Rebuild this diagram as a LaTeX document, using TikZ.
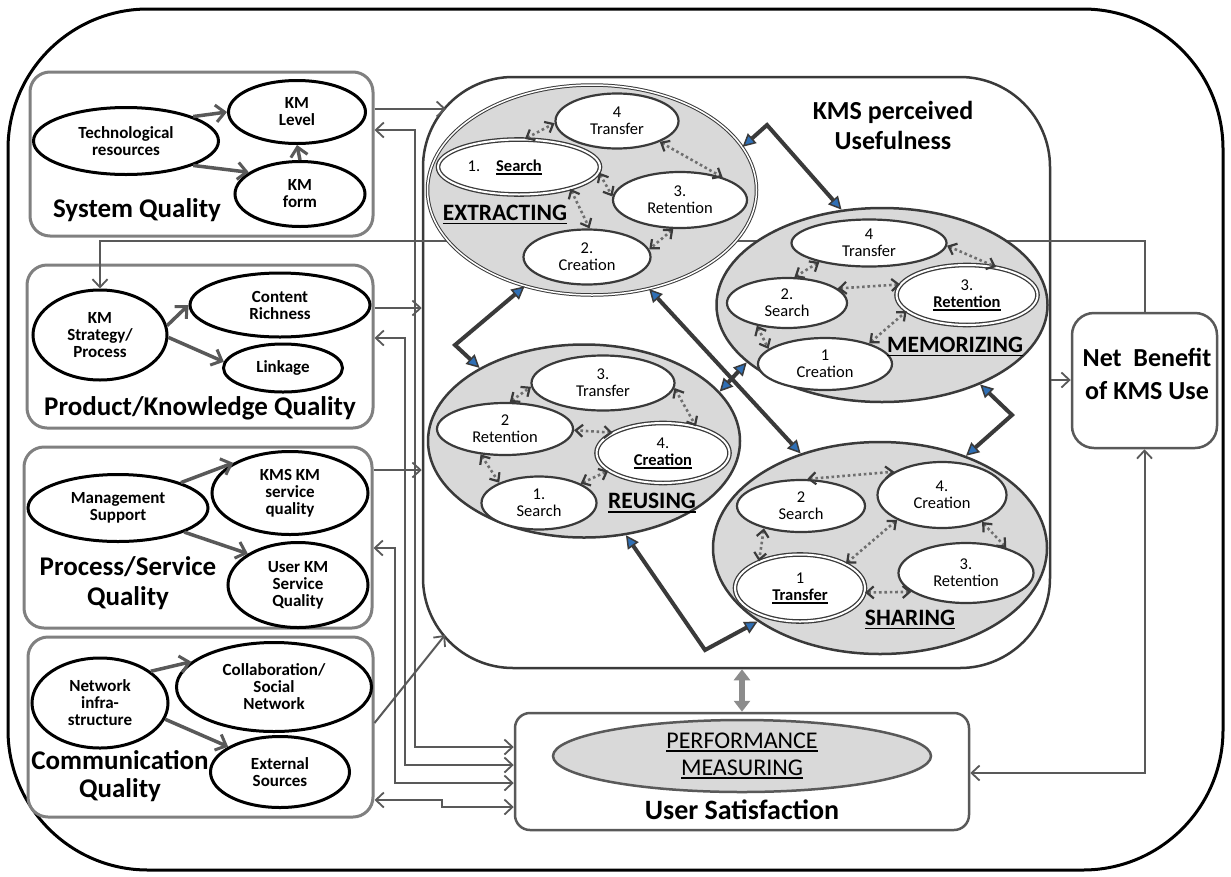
\documentclass[tikz,border=0pt]{standalone}
\usepackage{fontspec}
\setmainfont{Carlito}
\usetikzlibrary{shapes.geometric,arrows.meta}

\definecolor{framegray}{HTML}{808080}
\definecolor{wiregray}{HTML}{595959}
\definecolor{inkgray}{HTML}{3A3A3A}
\definecolor{shadegray}{HTML}{D9D9D9}
\definecolor{dotgray}{HTML}{6F6F6F}
\definecolor{tipblue}{HTML}{2F6FB5}
\definecolor{pipegray}{HTML}{8C8C8C}

\newcommand{\fsz}[2]{\fontsize{#1}{#2}\selectfont}
\newcommand{\undl}[1]{\leavevmode\vtop{\hbox{#1}\kern1.6pt\hrule height 1.8pt}}

\begin{document}
\begin{tikzpicture}[x=1pt,y=-1pt,
  lbox/.style={draw=framegray,line width=3pt,rounded corners=20pt,fill=white},
  lell/.style={ellipse,draw=black,line width=3pt,fill=white,inner sep=0pt,align=center,font=\fsz{17}{17}\bfseries},
  bigell/.style={ellipse,draw=inkgray,line width=2.5pt,fill=shadegray,inner sep=0pt},
  sell/.style={ellipse,draw=inkgray,line width=2.2pt,fill=white,inner sep=0pt,align=center,font=\fsz{16.5}{17}},
  dsell/.style={sell,line width=1.3pt,double=white,double distance=2pt},
  boxlabel/.style={font=\fsz{27}{30}\bfseries,align=center,inner sep=0pt},
  stagelabel/.style={font=\fsz{23.5}{26}\bfseries,inner sep=0pt},
  wtip/.tip={Straight Barb[length=8pt,width=15pt,line width=1.8pt]},
  itip/.tip={Straight Barb[length=9pt,width=17pt,line width=3pt]},
  dtip/.tip={Straight Barb[length=7pt,width=12pt,line width=2.2pt,color=inkgray]},
  ftip/.tip={Triangle[length=13pt,width=13pt,line width=1.5pt,fill=tipblue]},
  ptip/.tip={Triangle[length=11pt,width=16pt]},
  innerlink/.style={draw=wiregray,line width=3.5pt,-itip},
  wire/.style={draw=wiregray,line width=2pt},
  dlink/.style={draw=dotgray,line width=2.6pt,dash pattern=on 2.6pt off 2.8pt,dtip-dtip},
  flow/.style={draw=inkgray,line width=4pt,ftip-ftip},
  pipe/.style={draw=pipegray,line width=6pt,ptip-ptip}
]
\useasboundingbox (0,0) rectangle (1231,876);

% outer frame
\node[draw=black,line width=3pt,rounded corners=140pt,minimum width=1215pt,minimum height=861pt,inner sep=0pt] (frame) at (615.5,439.5) {};

% ---------- quality dimensions ----------
\node[lbox,minimum width=343pt,minimum height=164pt] (sysq) at (201.5,154) {};
\node[lell,minimum width=185pt,minimum height=67pt] (tech) at (126,141) {Technological\\resources};
\node[lell,minimum width=137pt,minimum height=63pt] (kmlevel) at (297,112) {KM\\Level};
\node[lell,minimum width=130pt,minimum height=65pt] (kmform) at (300,194) {KM\\form};
\node[boxlabel] (sysqlabel) at (137,210) {System Quality};
\draw[innerlink] (tech.20) -- (kmlevel.180);
\draw[innerlink] (tech.340) -- (kmform.157);
\draw[innerlink] (kmform.north) -- (kmlevel.south);

\node[lbox,minimum width=346pt,minimum height=163pt] (prodq) at (200,346.5) {};
\node[lell,minimum width=134pt,minimum height=90pt] (kmstrat) at (100,335) {KM\\Strategy/\\Process};
\node[lell,minimum width=180pt,minimum height=64pt] (content) at (280,305) {Content\\Richness};
\node[lell,minimum width=119pt,minimum height=48pt] (linkage) at (283,368) {Linkage};
\node[boxlabel] (prodqlabel) at (200,408) {Product/Knowledge Quality};
\draw[innerlink] (kmstrat.8) -- (content.180);
\draw[innerlink] (kmstrat.358) -- (linkage.174);

\node[lbox,minimum width=348pt,minimum height=181pt] (procq) at (198,537.5) {};
\node[lell,minimum width=180pt,minimum height=67pt] (mgmt) at (118,508) {Management\\Support};
\node[lell,minimum width=156pt,minimum height=83pt] (kmssq) at (290,493) {KMS KM\\service\\quality};
\node[lell,minimum width=140pt,minimum height=85pt] (userkm) at (298,585) {User KM\\Service\\Quality};
\node[boxlabel] (procqlabel) at (128,583) {Process/Service\\Quality};
\draw[innerlink] (mgmt.22) -- (kmssq.152);
\draw[innerlink] (mgmt.340) -- (userkm.148);

\node[lbox,minimum width=345pt,minimum height=180pt] (commq) at (200.5,727) {};
\node[lell,minimum width=136pt,minimum height=90pt] (netinf) at (100,703) {Network\\infra-\\structure};
\node[lell,minimum width=195pt,minimum height=89pt] (collab) at (274,687) {Collaboration/\\Social\\Network};
\node[lell,minimum width=139pt,minimum height=71pt] (extsrc) at (280,772) {External\\Sources};
\node[boxlabel,font=\fsz{27}{28}\bfseries] (commqlabel) at (120,776) {Communication\\Quality};
\draw[innerlink] (netinf.32) -- (collab.163);
\draw[innerlink] (netinf.346) -- (extsrc.154);

% ---------- outcome boxes ----------
\node[draw=wiregray,line width=2.5pt,rounded corners=22pt,fill=white,minimum width=145pt,minimum height=135pt] (nb) at (1144.5,380.5) {};
\node[font=\fsz{26}{33}\bfseries,align=center] (nbtext) at (1147,374) {Net\ \ Benefit\\of KMS Use};

\node[draw=wiregray,line width=2.5pt,rounded corners=15pt,fill=white,minimum width=454pt,minimum height=117pt] (us) at (742,771.5) {};
\node[ellipse,draw=wiregray,line width=2.5pt,fill=shadegray,minimum width=378pt,minimum height=72pt,inner sep=0pt,align=center,font=\fsz{24}{27}] (perf) at (742,756) {\undl{PERFORMANCE}\\\undl{MEASURING}};
\node[font=\fsz{28}{30}\bfseries] (ustext) at (742,810) {User Satisfaction};

% ---------- KMS perceived usefulness ----------
\node[draw=inkgray,line width=2.5pt,rounded corners=90pt,fill=white,minimum width=627pt,minimum height=591pt] (kms) at (736.5,372.5) {};
\node[font=\fsz{26}{30}\bfseries,align=center] (kmstitle) at (893,125) {KMS perceived\\Usefulness};

% connectors between the dimensions, the KMS and the outcomes
\coordinate (kmsA) at (446,109);
\coordinate (kmsD) at (445,635);
\draw[wire,-wtip] (sysq.east |- 0,109) -- (kmsA);
\draw[wire,-wtip] (prodq.east |- 0,308) -- (kms.west |- 0,308);
\draw[wire,-wtip] (procq.east |- 0,470) -- (kms.west |- 0,470);
\draw[wire,-wtip] (commq.east |- 0,723) -- (kmsD);

\draw[wire,wtip-wtip] (sysq.east |- 0,130) -- ++(40,0) |- (us.west |- 0,747);
\draw[wire,wtip-wtip] (prodq.east |- 0,338) -- ++(30,0) |- (us.west |- 0,765);
\draw[wire,wtip-wtip] (procq.east |- 0,548) -- ++(21,0) |- (us.west |- 0,783);
\draw[wire,wtip-wtip] (commq.east |- 0,800) -| (442,807) -- (us.west |- 0,807);

\draw[wire,-wtip] (kms.east |- 0,380) -- (nb.west |- 0,380);
\draw[wire,wtip-wtip] (us.east |- 0,773) -| (nb.south);
\draw[wire,-wtip] (nb.north) |- (kmstrat.north |- 0,241) -- (kmstrat.north);

% ---------- the four KM stages ----------
\node[bigell,line width=1pt,double=white,double distance=1.5pt,minimum width=329pt,minimum height=210pt] (ext) at (592,190) {};
\node[bigell,minimum width=331pt,minimum height=194pt] (mem) at (882,305) {};
\node[bigell,minimum width=312pt,minimum height=193pt] (reu) at (584,441) {};
\node[bigell,minimum width=334pt,minimum height=212pt] (sha) at (880,548) {};

% extracting
\node[sell,minimum width=123pt,minimum height=55pt] (xT) at (617,121) {4\\Transfer};
\node[dsell,minimum width=162pt,minimum height=55pt] (xS) at (519,167) {\llap{1.\hspace{16pt}}\textbf{\undl{Search}}};
\node[sell,minimum width=134pt,minimum height=56pt] (xR) at (680,200) {3.\\Retention};
\node[sell,minimum width=127pt,minimum height=55pt] (xC) at (587,257) {2.\\Creation};
\node[stagelabel] (xlabel) at (505,215) {\undl{EXTRACTING}};
\draw[dlink] (xS.78) -- (xT.182);
\draw[dlink] (xT.334) -- (xR.28);
\draw[dlink] (xS.356) -- (xR.177);
\draw[dlink] (xS.337) -- (xC.85);
\draw[dlink] (xR.257) -- (xC.7);

% memorizing
\node[sell,minimum width=155pt,minimum height=47pt] (mT) at (869,243) {4\\Transfer};
\node[sell,minimum width=120pt,minimum height=50pt] (mS) at (787,303) {2.\\Search};
\node[dsell,minimum width=141pt,minimum height=60pt] (mR) at (967,295) {3.\\\textbf{\undl{Retention}}};
\node[sell,minimum width=134pt,minimum height=52pt] (mC) at (825,364) {1\\Creation};
\node[stagelabel] (mlabel) at (955,347) {\undl{MEMORIZING}};
\draw[dlink] (mT.201) -- (mS.74);
\draw[dlink] (mT.358) -- (mR.44);
\draw[dlink] (mS.16) -- (mR.171);
\draw[dlink] (mS.217) -- (mC.165);
\draw[dlink] (mC.25) -- (mR.195);

% reusing
\node[sell,minimum width=143pt,minimum height=55pt] (rT) at (603,383) {3.\\Transfer};
\node[sell,minimum width=136pt,minimum height=52pt] (rR) at (505,429) {2\\Retention};
\node[dsell,minimum width=133pt,minimum height=60pt] (rC) at (663,453) {4.\\\textbf{\undl{Creation}}};
\node[sell,minimum width=115pt,minimum height=53pt] (rS) at (539,503) {1.\\Search};
\node[stagelabel] (rlabel) at (652,503) {\undl{REUSING}};
\draw[dlink] (rR.80) -- (rT.183);
\draw[dlink] (rT.356) -- (rC.39);
\draw[dlink] (rC.158) -- (rR.359);
\draw[dlink] (rR.226) -- (rS.153);
\draw[dlink] (rS.25) -- (rC.198);

% sharing
\node[sell,minimum width=128pt,minimum height=52pt] (sS) at (801,506) {2\\Search};
\node[sell,minimum width=129pt,minimum height=66pt] (sC) at (942,495) {4.\\Creation};
\node[sell,minimum width=135pt,minimum height=60pt] (sR) at (966,573) {3.\\Retention};
\node[dsell,minimum width=130pt,minimum height=67pt] (sT) at (800,588) {1\\\textbf{\undl{Transfer}}};
\node[stagelabel] (slabel) at (910,620) {\undl{SHARING}};
\draw[dlink] (sS.77) -- (sC.154);
\draw[dlink] (sS.211) -- (sT.147);
\draw[dlink] (sC.209) -- (sT.28);
\draw[dlink] (sC.326) -- (sR.32);
\draw[dlink] (sR.199) -- (sT.356);

% links between the stages
\coordinate (bendEM) at (767,125);
\coordinate (bendER) at (455,345);
\coordinate (bendMS) at (1012,415);
\coordinate (bendRS) at (705,650);
\draw[flow] (ext.16) -- (bendEM) -- (mem.113);
\draw[flow] (ext.235) -- (bendER) -- (reu.145);
\draw[flow] (ext.300) -- (sha.130);
\draw[flow] (reu.20) -- (mem.203);
\draw[flow] (mem.321) -- (bendMS) -- (sha.47);
\draw[flow] (reu.294) -- (bendRS) -- (sha.211);

% usefulness <-> satisfaction
\draw[pipe] (us.north |- kms.south) -- (us.north);
\end{tikzpicture}
\end{document}
